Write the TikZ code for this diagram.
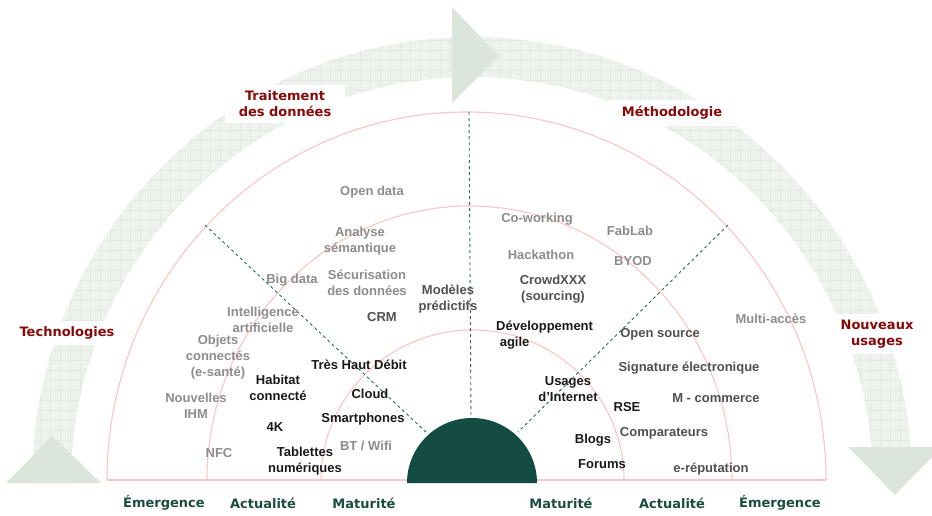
\documentclass[tikz,border=0pt]{standalone}
\usepackage{fontspec}
\setmainfont{Liberation Sans}
\newfontfamily\vfont{DejaVu Sans}
\definecolor{bandfill}{RGB}{237,242,236}
\definecolor{gridc}{RGB}{225,233,224}
\definecolor{headc}{RGB}{220,229,219}
\definecolor{pinkc}{RGB}{252,196,196}
\definecolor{dashc}{RGB}{30,110,85}
\definecolor{darkc}{RGB}{20,75,66}
\definecolor{dred}{RGB}{135,10,10}
\definecolor{dgreen}{RGB}{27,77,64}
\definecolor{lgray}{RGB}{140,140,140}
\definecolor{dgray}{RGB}{80,80,80}
\definecolor{blk}{RGB}{25,25,25}
\begin{document}
\begin{tikzpicture}[x=1pt,y=-1pt,
  item/.style={font=\bfseries\fontsize{13}{16}\selectfont, align=center, inner sep=0pt, yshift=-1.5pt},
  lg/.style={item, text=lgray},
  dg/.style={item, text=dgray},
  bk/.style={item, text=blk},
  lab/.style={font=\vfont\bfseries\fontsize{13}{16}\selectfont, text=dred, fill=white, align=center, inner xsep=14pt, inner ysep=6pt},
  phase/.style={font=\vfont\bfseries\fontsize{13}{16}\selectfont, text=dgreen, inner sep=0pt},
  pinkline/.style={draw=pinkc, line width=1.1pt},
  sep/.style={draw=dashc, line width=0.9pt, dash pattern=on 3pt off 3pt}]
\useasboundingbox (0,0) rectangle (932,515);
% band
\def\bandclip{(0,0) -- (932,0) -- (932,447) -- (472,447) -- (472,515) -- (0,515) -- cycle}
\def\bandpath{(32,483) arc[start angle=180,end angle=360,x radius=440,y radius=446] -- (873,483) arc[start angle=360,end angle=180,x radius=401,y radius=406] -- cycle}
\begin{scope}
  \clip \bandclip;
  \fill[bandfill] \bandpath;
  \clip \bandpath;
  \draw[gridc, line width=0.6pt] (0,0) grid[step=10pt] (940,520);
\end{scope}
% arrow heads
\fill[headc] (6,483) -- (52,436) -- (101,483) -- cycle;
\fill[headc] (452,7) -- (499,56) -- (452,103) -- cycle;
\fill[headc] (848,447) -- (942,447) -- (895,495) -- cycle;
% pink zones
\draw[pinkline] (107,480) arc[start angle=180,end angle=360,x radius=359.5,y radius=368];
\draw[pinkline] (207,480) arc[start angle=180,end angle=360,x radius=262.5,y radius=274];
\draw[pinkline] (321,480) arc[start angle=180,end angle=360,x radius=151.5,y radius=150];
\draw[pinkline] (107,480) -- (826,480);
% separators
\coordinate (lt) at (205,225);
\coordinate (lb) at (427,433);
\coordinate (vt) at (469,112);
\coordinate (vb) at (471,418);
\coordinate (rt) at (728,225);
\coordinate (rb) at (518,432);
\draw[sep] (lt) -- (lb);
\draw[sep] (vt) -- (vb);
\draw[sep] (rt) -- (rb);
% core
\fill[darkc] (407,483) arc[start angle=180,end angle=360,radius=65] -- cycle;
% labels
\node[lab] (trait) at (285,104) {Traitement\\des données};
\node[lab] (metho) at (672,113) {Méthodologie};
\node[lab] (techno) at (67,333) {Technologies};
\node[lab] (nouv) at (877,334) {Nouveaux\\usages};
% phases
\node[phase] (p1) at (164,503) {Émergence};
\node[phase] (p2) at (263,503) {Actualité};
\node[phase] (p3) at (364,503) {Maturité};
\node[phase] (p4) at (561,503) {Maturité};
\node[phase] (p5) at (672,503) {Actualité};
\node[phase] (p6) at (780,503) {Émergence};
% light gray items
\node[lg] (open) at (372,191) {Open data};
\node[lg] (analyse) at (360,240) {Analyse\\sémantique};
\node[lg] (bigdata) at (292,279) {Big data};
\node[lg] (secu) at (367,281) {Sécurisation\\des données};
\node[lg] (intel) at (263,318) {Intelligence\\artificielle};
\node[lg] (objets) at (218,356) {Objets\\connectés\\(e-santé)};
\node[lg] (ihm) at (196,404) {Nouvelles\\IHM};
\node[lg] (nfc) at (219,452) {NFC};
\node[lg] (bt) at (366,444) {BT / Wifi};
\node[lg] (cowork) at (537,218) {Co-working};
\node[lg] (fablab) at (630,229) {FabLab};
\node[lg] (hack) at (541,253) {Hackathon};
\node[lg] (byod) at (633,260) {BYOD};
\node[lg] (multi) at (771,317) {Multi-accès};
% dark gray items
\node[dg] (modeles) at (448,298) {Modèles\\prédictifs};
\node[dg] (crm) at (382,316) {CRM};
\node[dg] (crowd) at (553,288) {CrowdXXX\\(sourcing)};
\node[dg] (opensrc) at (660,333) {Open source};
\node[dg] (signature) at (689,367) {Signature électronique};
\node[dg] (mcom) at (716,397) {M - commerce};
\node[dg] (compar) at (664,432) {Comparateurs};
\node[dg] (erep) at (711,468) {e-réputation};
% black items
\node[bk] (thd) at (359,363) {Très Haut Débit};
\node[bk] (cloud) at (370,392) {Cloud};
\node[bk] (smart) at (363,418) {Smartphones};
\node[bk] (habitat) at (278,386) {Habitat\\connecté};
\node[bk] (fourk) at (275,426) {4K};
\node[bk] (tabl) at (305,460) {Tablettes\\numériques};
\node[bk, align=left, anchor=west] (dev) at (496,334) {Développement\\\ agile};
\node[bk] (usages) at (568,388) {Usages\\d’Internet};
\node[bk] (rse) at (627,406) {RSE};
\node[bk] (blogs) at (593,439) {Blogs};
\node[bk] (forums) at (602,463) {Forums};
\end{tikzpicture}
\end{document}
